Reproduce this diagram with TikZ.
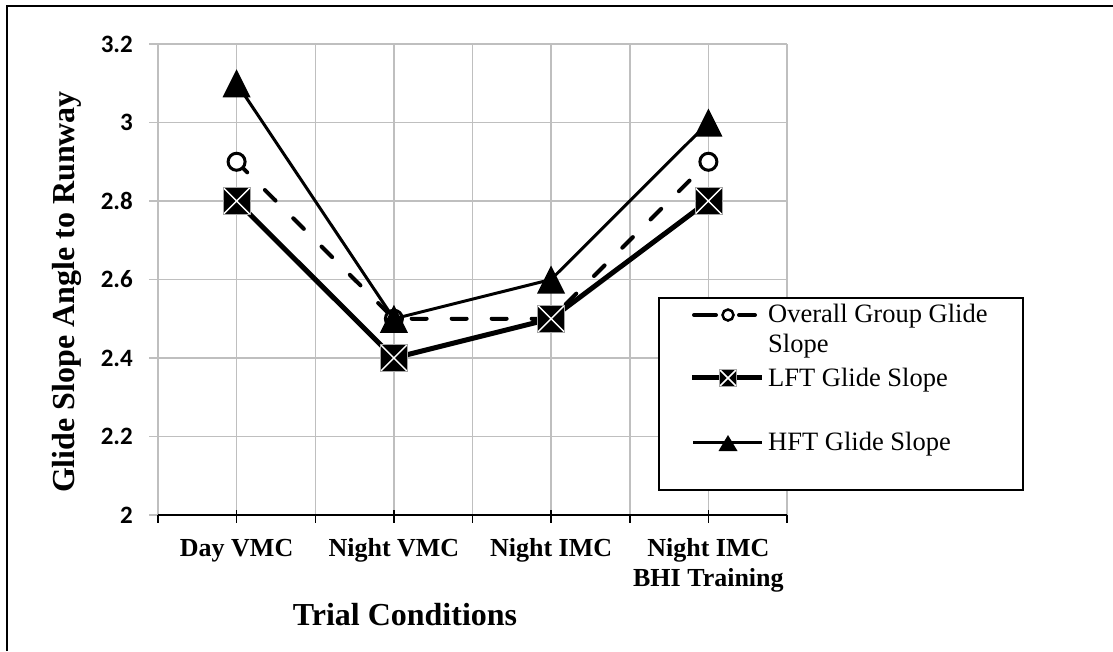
\documentclass[tikz,border=0pt]{standalone}
\usepackage{fontspec}
\setmainfont{Liberation Serif}
\newfontfamily\ticknumfont{Carlito}
\definecolor{gridgray}{RGB}{191,191,191}
\begin{document}
\begin{tikzpicture}[x=1pt,y=-1pt,
  gridline/.style={draw=gridgray, line width=1.5pt},
  xaxis/.style={draw=black, line width=2pt},
  tickmark/.style={draw=black, line width=1.5pt},
  ylab/.style={font=\ticknumfont\bfseries\fontsize{25}{29}\selectfont, anchor=east, inner sep=0pt},
  xlab/.style={font=\bfseries\fontsize{26}{30}\selectfont, anchor=base, inner sep=0pt, align=center},
  axtitle/.style={font=\bfseries\fontsize{32}{38}\selectfont, anchor=base, inner sep=0pt},
  legtext/.style={font=\fontsize{26.5}{30}\selectfont, anchor=base west, inner sep=0pt},
  ovlline/.style={line width=4pt, dash pattern=on 15pt off 25pt, line cap=round},
  lftline/.style={line width=5pt},
  hftline/.style={line width=3pt},
  circmark/.style={circle, draw=black, fill=white, line width=3pt, minimum size=17pt, inner sep=0pt},
  legcirc/.style={circle, draw=black, fill=white, line width=2.5pt, minimum size=11pt, inner sep=0pt},
  sqmark/.style={rectangle, draw=white!65!black, line width=0.8pt, fill=black, minimum size=#1, inner sep=0pt,
    path picture={\draw[white, line width=1.5pt]
      (path picture bounding box.north west) -- (path picture bounding box.south east)
      (path picture bounding box.north east) -- (path picture bounding box.south west);}},
  pics/trimark/.style 2 args={code={\fill[black] (-#1,#2) -- (#1,#2) -- (0,-#2) -- cycle;}}
]
\useasboundingbox (0,0) rectangle (1113,651);
\fill[white] (0,0) rectangle (1113,651);

% outer frame (left and top edges)
\draw[line width=2pt] (7,651) -- (7,6) -- (1113,6);

% horizontal gridlines with their short left ticks
\foreach \yy in {44,122.5,201,279.5,358,436.5,515}
  \draw[gridline] (149,\yy) -- (787,\yy);
% vertical gridlines
\foreach \xx in {158,236.6,315.25,393.9,472.5,551.1,629.75,708.4,787}
  \draw[gridline] (\xx,44) -- (\xx,515);

% category axis
\coordinate (ax0) at (158,515);
\coordinate (ax1) at (787,515);
\draw[xaxis] (ax0) -- (ax1);
\foreach \xx in {158,315.25,472.5,629.75,787}
  \draw[tickmark] (\xx,515) -- (\xx,523);
\foreach \xx in {236.6,393.9,551.1,708.4}
  \draw[tickmark] (\xx,510) -- (\xx,523);

% value axis labels
\node[ylab] (y32) at (133,44) {3.2};
\node[ylab] (y30) at (133,122.5) {3};
\node[ylab] (y28) at (133,201) {2.8};
\node[ylab] (y26) at (133,279.5) {2.6};
\node[ylab] (y24) at (133,358) {2.4};
\node[ylab] (y22) at (133,436.5) {2.2};
\node[ylab] (y20) at (133,515) {2};

% category labels
\node[xlab] (c1) at (236.6,556) {Day VMC};
\node[xlab] (c2) at (393.9,556) {Night VMC};
\node[xlab] (c3) at (551.1,556) {Night IMC};
\node[xlab] (c4) at (708.4,586) {Night IMC\\BHI Training};

% axis titles
\node[axtitle, rotate=90] (ytitle) at (74,292) {Glide Slope Angle to Runway};
\node[axtitle] (xtitle) at (405,625) {Trial Conditions};

% data points
\coordinate (o1) at (236.6,161.75);
\coordinate (o2) at (393.9,318.75);
\coordinate (o3) at (551.1,318.75);
\coordinate (o4) at (708.4,161.75);
\coordinate (l1) at (236.6,201);
\coordinate (l2) at (393.9,358);
\coordinate (l3) at (551.1,318.75);
\coordinate (l4) at (708.4,201);
\coordinate (h1) at (236.6,83.25);
\coordinate (h2) at (393.9,318.75);
\coordinate (h3) at (551.1,279.5);
\coordinate (h4) at (708.4,122.5);

% overall group series
\draw[ovlline] (o1) -- (o2) -- (o3) -- (o4);
\foreach \p in {1,2,3,4} \node[circmark] (mo\p) at (o\p) {};
% LFT series
\draw[lftline] (l1) -- (l2) -- (l3) -- (l4);
\foreach \p in {1,2,3,4} \node[sqmark=27pt] (ml\p) at (l\p) {};
% HFT series
\draw[hftline] (h1) -- (h2) -- (h3) -- (h4);
\foreach \p in {1,2,3,4} \pic at (h\p) {trimark={14}{14}};

% legend
\node[draw=black, line width=1.5pt, fill=white, minimum width=364pt, minimum height=192pt,
      anchor=north west, inner sep=0pt] (legend) at (658,297) {};
\coordinate (ga) at (694,315);
\coordinate (gb) at (716,315);
\coordinate (gc) at (739,315);
\coordinate (gd) at (755,315);
\draw[line width=4pt, line cap=round] (ga) -- (gb) (gc) -- (gd);
\node[legcirc] (legc) at (728,315) {};
\coordinate (la) at (692,377.5);
\coordinate (lb) at (762,377.5);
\draw[lftline] (la) -- (lb);
\node[sqmark=17pt] (legs) at (728,378) {};
\coordinate (ha) at (693,442);
\coordinate (hb) at (762,442);
\draw[hftline] (ha) -- (hb);
\pic at (728,443) {trimark={9.5}{8}};
\node[legtext] (t1) at (768,322.7) {Overall Group Glide};
\node[legtext] (t1b) at (768,352.7) {Slope};
\node[legtext] (t2) at (768,386.7) {LFT Glide Slope};
\node[legtext] (t3) at (768,450.7) {HFT Glide Slope};
\end{tikzpicture}
\end{document}
